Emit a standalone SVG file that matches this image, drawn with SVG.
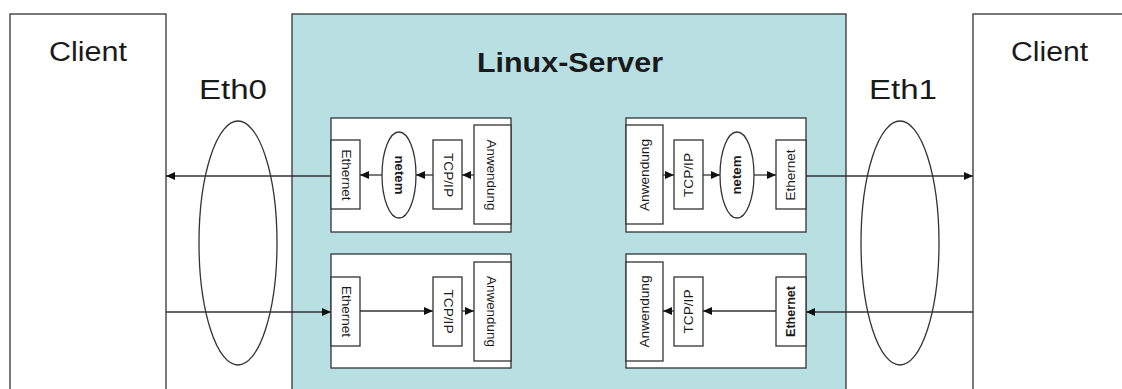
<svg xmlns="http://www.w3.org/2000/svg" width="1122" height="389" viewBox="0 0 1122 389">
<style>
.box{fill:#fff;stroke:#333;stroke-width:1.3}
.srv{fill:#b8dfe2;stroke:#333;stroke-width:1.3}
.ln{stroke:#333;stroke-width:1.3;fill:none}
.big{font-family:"Liberation Sans",Arial,sans-serif;font-size:27px;fill:#1a1a1a}
.bold{font-weight:bold}
.sm{font-family:"Liberation Sans",Arial,sans-serif;font-size:12.5px;fill:#1a1a1a;text-anchor:middle;dominant-baseline:central}
</style>
<defs>
<marker id="ah" markerUnits="userSpaceOnUse" markerWidth="10" markerHeight="8" refX="9" refY="4" orient="auto">
<path d="M0,0 L9,4 L0,8 z" fill="#111"/>
</marker>
</defs>

<g id="client-left">
<rect class="box" x="10" y="14" width="156" height="390"/>
<text class="big" x="49" y="61" textLength="78" lengthAdjust="spacingAndGlyphs">Client</text>
</g>
<g id="client-right">
<rect class="box" x="973" y="14" width="160" height="390"/>
<text class="big" x="1011" y="61" textLength="77" lengthAdjust="spacingAndGlyphs">Client</text>
</g>
<g id="server">
<rect class="srv" x="292" y="14" width="554" height="390"/>
<text class="big bold" x="477" y="72" textLength="186" lengthAdjust="spacingAndGlyphs">Linux-Server</text>
</g>

<g id="connectors">
<line class="ln" x1="331" y1="176" x2="166" y2="176" marker-end="url(#ah)"/>
<line class="ln" x1="166" y1="312" x2="331" y2="312" marker-end="url(#ah)"/>
<line class="ln" x1="806" y1="176" x2="973" y2="176" marker-end="url(#ah)"/>
<line class="ln" x1="973" y1="312" x2="806" y2="312" marker-end="url(#ah)"/>
</g>

<g id="eth0">
<ellipse class="ln" cx="238" cy="243" rx="39" ry="122"/>
<text class="big" x="199" y="99" textLength="68" lengthAdjust="spacingAndGlyphs">Eth0</text>
</g>
<g id="eth1">
<ellipse class="ln" cx="900" cy="243" rx="39" ry="122"/>
<text class="big" x="869" y="99" textLength="68" lengthAdjust="spacingAndGlyphs">Eth1</text>
</g>

<g id="stack-left-top">
<rect class="box" x="331" y="118" width="180" height="114"/>
<rect class="box" x="474" y="125" width="37" height="99"/>
<rect class="box" x="433" y="140" width="29" height="69"/>
<ellipse class="box" cx="399" cy="175" rx="17" ry="43"/>
<rect class="box" x="331" y="140" width="29" height="69"/>
<line class="ln" x1="474" y1="175" x2="462" y2="175" marker-end="url(#ah)"/>
<line class="ln" x1="433" y1="175" x2="416" y2="175" marker-end="url(#ah)"/>
<line class="ln" x1="382" y1="175" x2="360" y2="175" marker-end="url(#ah)"/>
<text class="sm" transform="translate(491,175) rotate(90)" textLength="71" lengthAdjust="spacingAndGlyphs">Anwendung</text>
<text class="sm" transform="translate(447.5,175) rotate(90)" textLength="44" lengthAdjust="spacingAndGlyphs">TCP/IP</text>
<text class="sm bold" transform="translate(399,175) rotate(90)" textLength="39" lengthAdjust="spacingAndGlyphs">netem</text>
<text class="sm" transform="translate(345.5,175) rotate(90)" textLength="51" lengthAdjust="spacingAndGlyphs">Ethernet</text>
</g>

<g id="stack-left-bottom">
<rect class="box" x="331" y="254" width="180" height="114"/>
<rect class="box" x="474" y="262" width="37" height="99"/>
<rect class="box" x="433" y="277" width="29" height="69"/>
<rect class="box" x="331" y="277" width="29" height="69"/>
<line class="ln" x1="360" y1="311" x2="433" y2="311" marker-end="url(#ah)"/>
<line class="ln" x1="462" y1="311" x2="474" y2="311" marker-end="url(#ah)"/>
<text class="sm" transform="translate(491,311.5) rotate(90)" textLength="71" lengthAdjust="spacingAndGlyphs">Anwendung</text>
<text class="sm" transform="translate(447.5,311.5) rotate(90)" textLength="44" lengthAdjust="spacingAndGlyphs">TCP/IP</text>
<text class="sm" transform="translate(345.5,311.5) rotate(90)" textLength="51" lengthAdjust="spacingAndGlyphs">Ethernet</text>
</g>

<g id="stack-right-top">
<rect class="box" x="626" y="118" width="180" height="114"/>
<rect class="box" x="626" y="125" width="37" height="99"/>
<rect class="box" x="674" y="140" width="29" height="69"/>
<ellipse class="box" cx="737" cy="175" rx="17" ry="43"/>
<rect class="box" x="776" y="140" width="30" height="69"/>
<line class="ln" x1="663" y1="175" x2="674" y2="175" marker-end="url(#ah)"/>
<line class="ln" x1="703" y1="175" x2="720" y2="175" marker-end="url(#ah)"/>
<line class="ln" x1="754" y1="175" x2="776" y2="175" marker-end="url(#ah)"/>
<text class="sm" transform="translate(645,175) rotate(-90)" textLength="72" lengthAdjust="spacingAndGlyphs">Anwendung</text>
<text class="sm" transform="translate(689,175) rotate(-90)" textLength="44" lengthAdjust="spacingAndGlyphs">TCP/IP</text>
<text class="sm bold" transform="translate(737,175) rotate(-90)" textLength="39" lengthAdjust="spacingAndGlyphs">netem</text>
<text class="sm" transform="translate(791,175) rotate(-90)" textLength="51" lengthAdjust="spacingAndGlyphs">Ethernet</text>
</g>

<g id="stack-right-bottom">
<rect class="box" x="626" y="254" width="180" height="114"/>
<rect class="box" x="626" y="262" width="37" height="99"/>
<rect class="box" x="674" y="277" width="29" height="69"/>
<rect class="box" x="776" y="277" width="30" height="69"/>
<line class="ln" x1="776" y1="311" x2="703" y2="311" marker-end="url(#ah)"/>
<line class="ln" x1="674" y1="311" x2="663" y2="311" marker-end="url(#ah)"/>
<text class="sm" transform="translate(645,311.5) rotate(-90)" textLength="72" lengthAdjust="spacingAndGlyphs">Anwendung</text>
<text class="sm" transform="translate(689,311.5) rotate(-90)" textLength="44" lengthAdjust="spacingAndGlyphs">TCP/IP</text>
<text class="sm bold" transform="translate(791,311.5) rotate(-90)" textLength="51" lengthAdjust="spacingAndGlyphs">Ethernet</text>
</g>
</svg>
